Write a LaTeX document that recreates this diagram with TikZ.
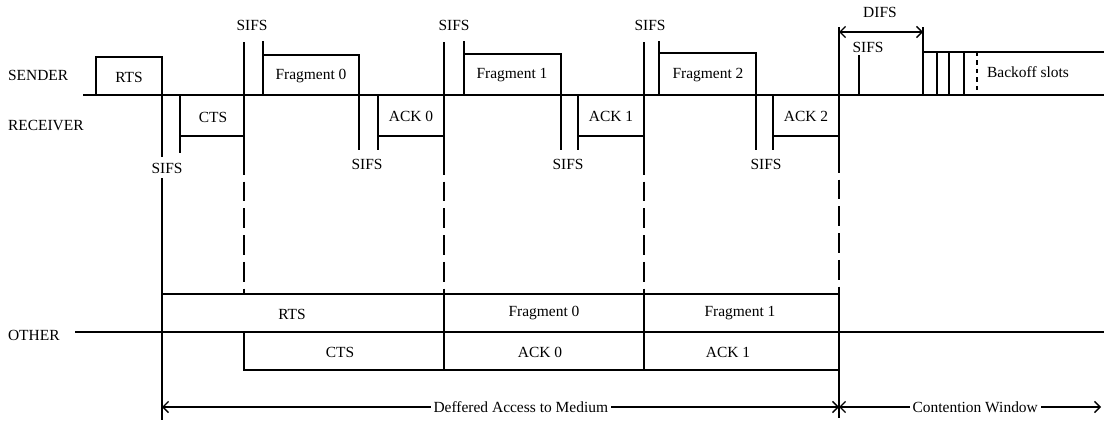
\documentclass[tikz,border=0pt]{standalone}
\usepackage{fontspec}
\setmainfont{Liberation Serif}
\usetikzlibrary{arrows.meta}

\begin{document}
\begin{tikzpicture}[x=0.025cm,y=-0.025cm,line width=0.9pt,
  lbl/.style={font=\fontsize{11}{13}\selectfont,inner sep=1pt},
  gap/.style={dash pattern=on 14pt off 5pt},
  barb/.style={{Straight Barb[length=4pt,width=8pt]}-{Straight Barb[length=4pt,width=8pt]}}]
  \useasboundingbox (0,0) rectangle (1104,421);

  % Stations
  \node[lbl,anchor=west] (snd) at (6,75) {SENDER};
  \node[lbl,anchor=west] (rcv) at (6,125) {RECEIVER};
  \node[lbl,anchor=west] (oth) at (6,335) {OTHER};

  % Medium seen by sender and receiver
  \draw (83,95) -- (1104,95);

  % RTS and CTS
  \draw (96,95) -- (96,57) -- (162,57) -- (162,157);
  \node[lbl] (rts) at (129,77) {RTS};
  \node[lbl] (sr) at (167,168) {SIFS};
  \draw (162,178) -- (162,420);
  \draw (180,95) -- (180,153);
  \draw (180,136) -- (244,136);
  \node[lbl] (cts) at (213,117) {CTS};

  % Fragment 0 and ACK 0
  \node[lbl] (sf0) at (252,25) {SIFS};
  \draw (244,42) -- (244,155);
  \draw[gap] (244,155) -- (244,294);
  \draw (263,41) -- (263,95);
  \draw (263,55) -- (359,55) -- (359,150);
  \node[lbl] (f0) at (311,76) {Fragment 0};
  \node[lbl] (sa0) at (367,164) {SIFS};
  \draw (378,95) -- (378,150);
  \draw (378,136) -- (444,136);
  \node[lbl] (a0) at (411,116) {ACK 0};

  % Fragment 1 and ACK 1
  \node[lbl] (sf1) at (454,25) {SIFS};
  \draw (444,42) -- (444,155);
  \draw[gap] (444,155) -- (444,294);
  \draw (464,41) -- (464,95);
  \draw (464,54) -- (561,54) -- (561,150);
  \node[lbl] (f1) at (512,75) {Fragment 1};
  \node[lbl] (sa1) at (568,164) {SIFS};
  \draw (578,95) -- (578,150);
  \draw (578,136) -- (644,136);
  \node[lbl] (a1) at (611,116) {ACK 1};

  % Fragment 2 and ACK 2
  \node[lbl] (sf2) at (650,25) {SIFS};
  \draw (644,42) -- (644,155);
  \draw[gap] (644,155) -- (644,293);
  \draw (659,41) -- (659,95);
  \draw (659,53) -- (756,53) -- (756,150);
  \node[lbl] (f2) at (708,75) {Fragment 2};
  \node[lbl] (sa2) at (766,164) {SIFS};
  \draw (773,95) -- (773,150);
  \draw (773,136) -- (839,136);
  \node[lbl] (a2) at (806,116) {ACK 2};

  % DIFS and backoff
  \draw (839,27) -- (839,153);
  \draw[gap] (839,153) -- (839,293);
  \coordinate (dil) at (839,32);
  \coordinate (dir) at (923,32);
  \draw[barb] (dil) -- (dir);
  \node[lbl] (difs) at (880,12) {DIFS};
  \node[lbl] (sd) at (868,47) {SIFS};
  \draw (859,55) -- (859,95);
  \draw (923,27) -- (923,95);
  \draw (923,52) -- (1104,52);
  \draw (937,52) -- (937,95);
  \draw (949,52) -- (949,95);
  \draw (964,52) -- (964,95);
  \draw[dashed] (977,52) -- (977,95);
  \node[lbl] (bo) at (1028,72) {Backoff slots};

  % Other station
  \draw (75,332) -- (1104,332);
  \draw (162,294) -- (839,294);
  \draw (244,332) -- (244,370) -- (839,370);
  \draw (444,294) -- (444,370);
  \draw (644,293) -- (644,370);
  \draw (839,293) -- (839,418);
  \node[lbl] (ortsl) at (292,314) {RTS};
  \node[lbl] (octs) at (340,352) {CTS};
  \node[lbl] (of0) at (544,313) {Fragment 0};
  \node[lbl] (oa0) at (540,352) {ACK 0};
  \node[lbl] (of1) at (740,313) {Fragment 1};
  \node[lbl] (oa1) at (728,352) {ACK 1};

  % Deferral and contention
  \coordinate (dfl) at (162,407);
  \coordinate (dfr) at (839,407);
  \coordinate (cwr) at (1101,407);
  \draw[barb] (dfl) -- node[lbl,fill=white,inner sep=2pt,pos=0.53] (dam) {Deffered Access to Medium} (dfr);
  \draw[barb] (dfr) -- node[lbl,fill=white,inner sep=2pt,pos=0.52] (cw) {Contention Window} (cwr);
\end{tikzpicture}
\end{document}
